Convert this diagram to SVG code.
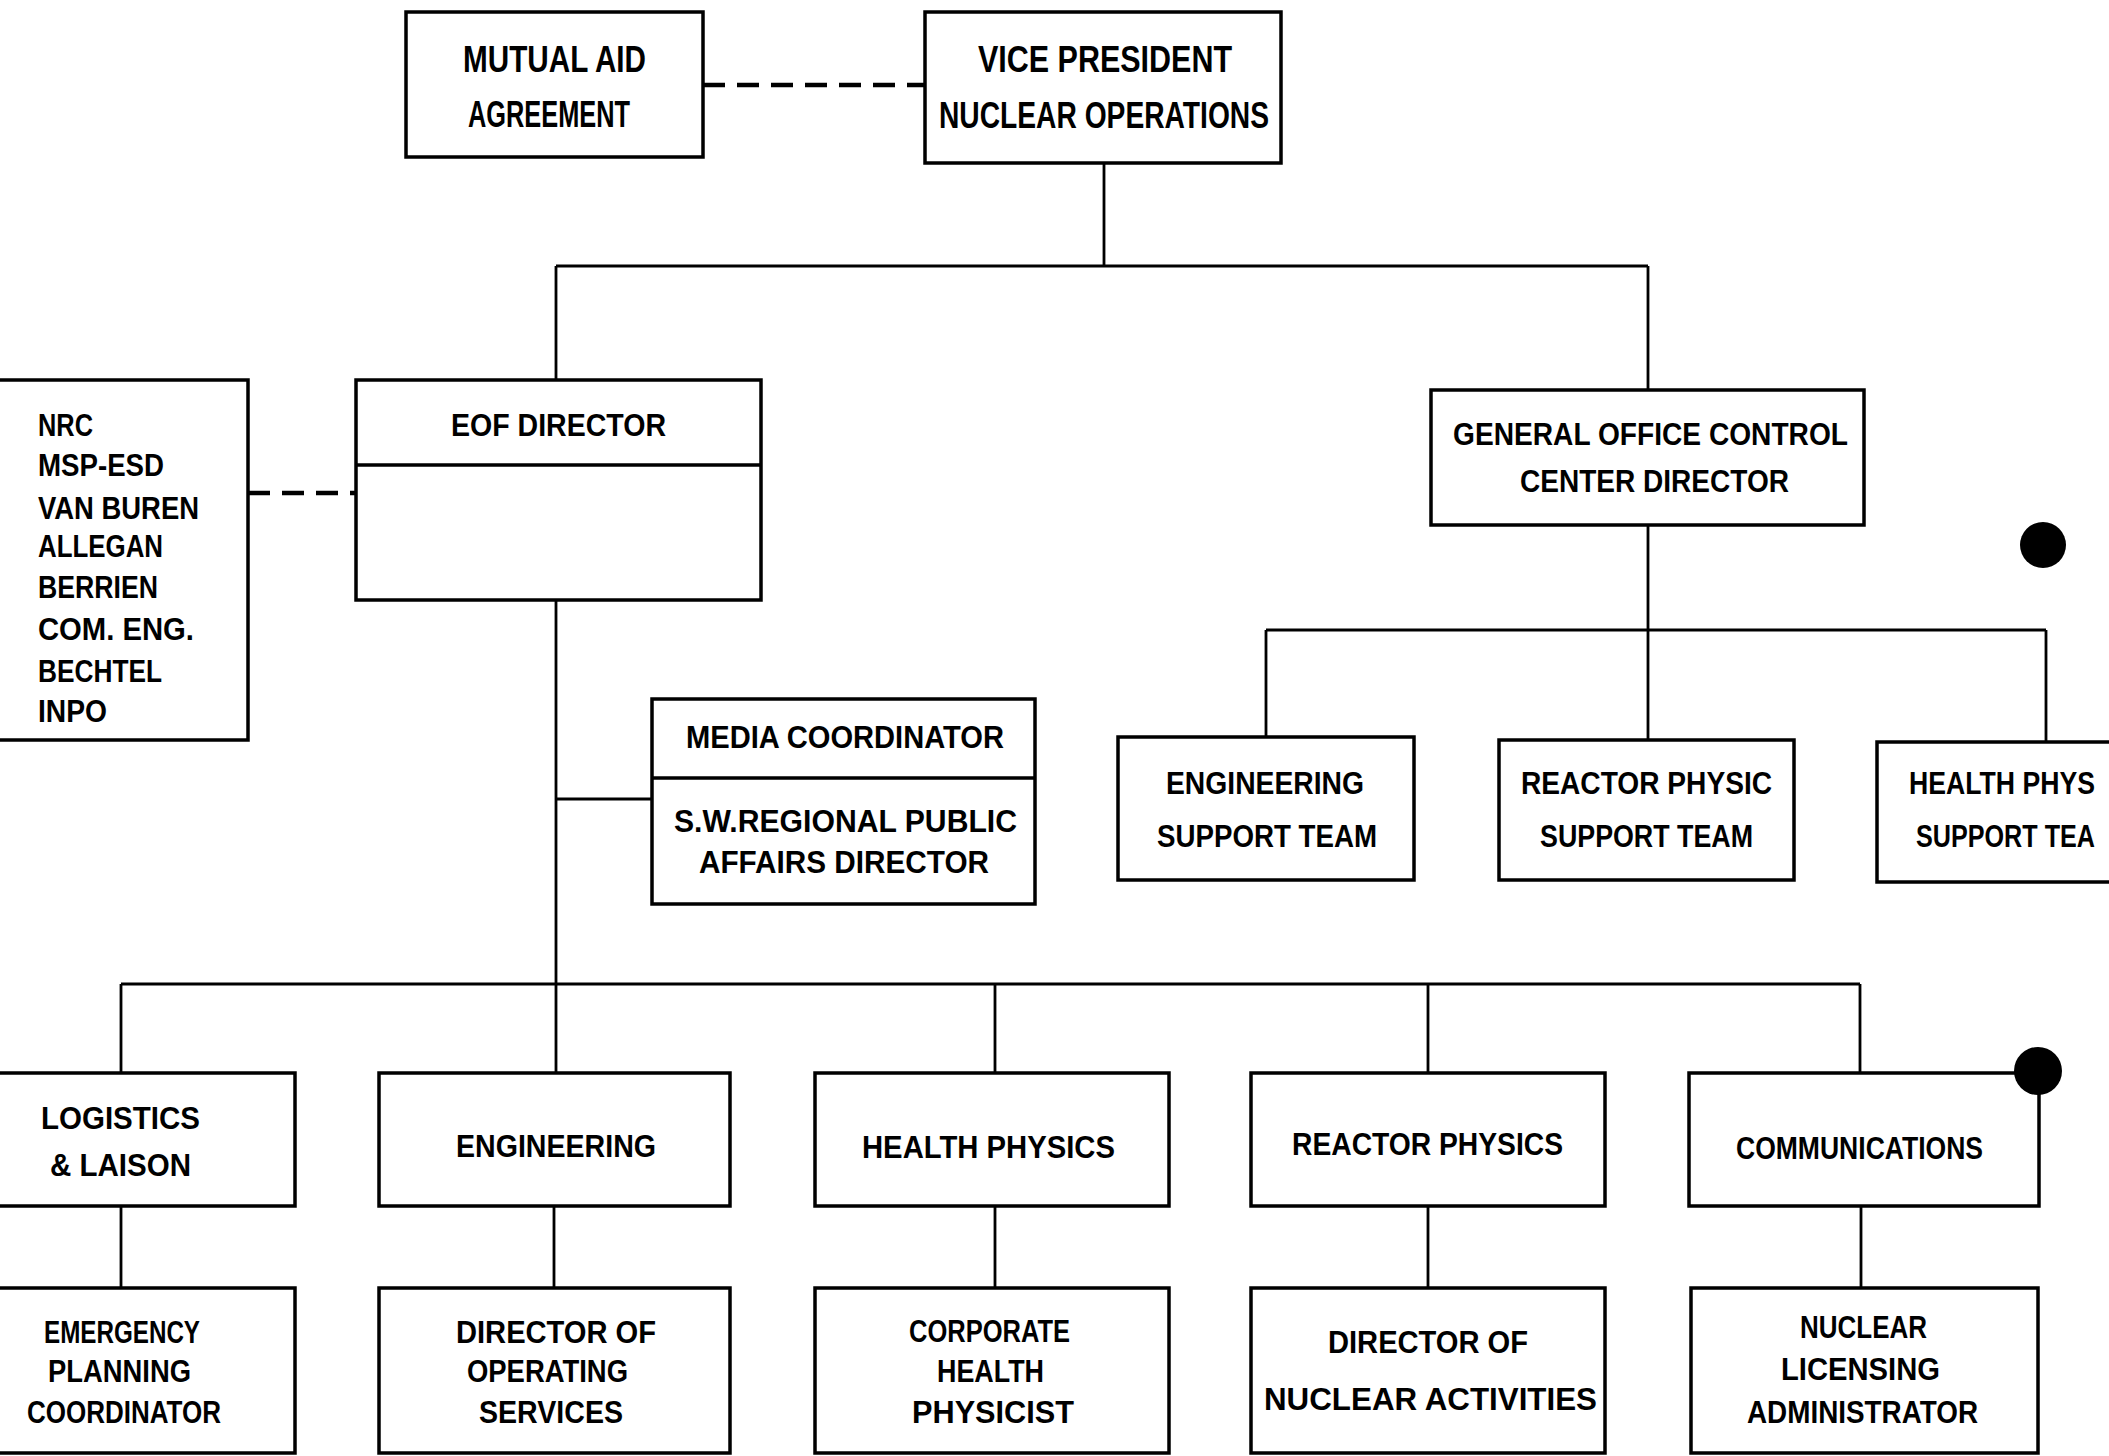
<svg xmlns="http://www.w3.org/2000/svg" width="2109" height="1456" viewBox="0 0 2109 1456">
<style>
.box{fill:none;stroke:#000;stroke-width:3.5}
.ln{fill:none;stroke:#000;stroke-width:2.8}
.dash{fill:none;stroke:#000;stroke-width:4.5;stroke-dasharray:22 12}
text{font-family:"Liberation Sans",Arial,sans-serif;font-weight:bold;font-size:32px;fill:#000}
.big{font-size:36px}
</style>
<rect width="2109" height="1456" fill="#fff"/>
<g id="connectors">
  <path class="dash" d="M703 85 H925"/>
  <path class="dash" d="M248 493 H356"/>
  <path class="ln" d="M1104 163 V266 M556 266 H1648 M556 266 V380 M1648 266 V390"/>
  <path class="ln" d="M556 600 V1073 M556 799 H652"/>
  <path class="ln" d="M121 984 H1860 M121 984 V1073 M995 984 V1073 M1428 984 V1073 M1860 984 V1073"/>
  <path class="ln" d="M121 1206 V1288 M554 1206 V1288 M995 1206 V1288 M1428 1206 V1288 M1861 1206 V1288"/>
  <path class="ln" d="M1648 525 V740 M1266 630 H2046 M1266 630 V737 M2046 630 V742"/>
</g>
<g id="mutual-aid">
  <rect class="box" x="406" y="12" width="297" height="145"/>
  <text class="big" x="463" y="72" textLength="183" lengthAdjust="spacingAndGlyphs">MUTUAL AID</text>
  <text class="big" x="468" y="127" textLength="162" lengthAdjust="spacingAndGlyphs">AGREEMENT</text>
</g>
<g id="vice-president">
  <rect class="box" x="925" y="12" width="356" height="151"/>
  <text class="big" x="978" y="72" textLength="254" lengthAdjust="spacingAndGlyphs">VICE PRESIDENT</text>
  <text class="big" x="939" y="128" textLength="330" lengthAdjust="spacingAndGlyphs">NUCLEAR OPERATIONS</text>
</g>
<g id="external-agencies">
  <rect class="box" x="-2" y="380" width="250" height="360"/>
  <text x="38" y="436" textLength="55" lengthAdjust="spacingAndGlyphs">NRC</text>
  <text x="38" y="476" textLength="126" lengthAdjust="spacingAndGlyphs">MSP-ESD</text>
  <text x="38" y="519" textLength="161" lengthAdjust="spacingAndGlyphs">VAN BUREN</text>
  <text x="38" y="557" textLength="125" lengthAdjust="spacingAndGlyphs">ALLEGAN</text>
  <text x="38" y="598" textLength="120" lengthAdjust="spacingAndGlyphs">BERRIEN</text>
  <text x="38" y="640" textLength="156" lengthAdjust="spacingAndGlyphs">COM. ENG.</text>
  <text x="38" y="682" textLength="124" lengthAdjust="spacingAndGlyphs">BECHTEL</text>
  <text x="38" y="722" textLength="69" lengthAdjust="spacingAndGlyphs">INPO</text>
</g>
<g id="eof-director">
  <rect class="box" x="356" y="380" width="405" height="220"/>
  <path class="box" d="M356 465 H761"/>
  <text x="451" y="436" textLength="215" lengthAdjust="spacingAndGlyphs">EOF DIRECTOR</text>
</g>
<g id="media-coordinator">
  <rect class="box" x="652" y="699" width="383" height="205"/>
  <path class="box" d="M652 778 H1035"/>
  <text x="686" y="748" textLength="318" lengthAdjust="spacingAndGlyphs">MEDIA COORDINATOR</text>
  <text x="674" y="832" textLength="343" lengthAdjust="spacingAndGlyphs">S.W.REGIONAL PUBLIC</text>
  <text x="699" y="873" textLength="290" lengthAdjust="spacingAndGlyphs">AFFAIRS DIRECTOR</text>
</g>
<g id="gocc-director">
  <rect class="box" x="1431" y="390" width="433" height="135"/>
  <text x="1453" y="445" textLength="395" lengthAdjust="spacingAndGlyphs">GENERAL OFFICE CONTROL</text>
  <text x="1520" y="492" textLength="269" lengthAdjust="spacingAndGlyphs">CENTER DIRECTOR</text>
</g>
<g id="eng-support">
  <rect class="box" x="1118" y="737" width="296" height="143"/>
  <text x="1166" y="794" textLength="198" lengthAdjust="spacingAndGlyphs">ENGINEERING</text>
  <text x="1157" y="847" textLength="220" lengthAdjust="spacingAndGlyphs">SUPPORT TEAM</text>
</g>
<g id="reactor-support">
  <rect class="box" x="1499" y="740" width="295" height="140"/>
  <text x="1521" y="794" textLength="251" lengthAdjust="spacingAndGlyphs">REACTOR PHYSIC</text>
  <text x="1540" y="847" textLength="213" lengthAdjust="spacingAndGlyphs">SUPPORT TEAM</text>
</g>
<g id="health-support">
  <rect class="box" x="1877" y="742" width="260" height="140"/>
  <text x="1909" y="794" textLength="186" lengthAdjust="spacingAndGlyphs">HEALTH PHYS</text>
  <text x="1916" y="847" textLength="179" lengthAdjust="spacingAndGlyphs">SUPPORT TEA</text>
</g>
<g id="logistics">
  <rect class="box" x="-2" y="1073" width="297" height="133"/>
  <text x="41" y="1129" textLength="159" lengthAdjust="spacingAndGlyphs">LOGISTICS</text>
  <text x="50" y="1176" textLength="141" lengthAdjust="spacingAndGlyphs">&amp; LAISON</text>
</g>
<g id="engineering">
  <rect class="box" x="379" y="1073" width="351" height="133"/>
  <text x="456" y="1157" textLength="200" lengthAdjust="spacingAndGlyphs">ENGINEERING</text>
</g>
<g id="health-physics">
  <rect class="box" x="815" y="1073" width="354" height="133"/>
  <text x="862" y="1158" textLength="253" lengthAdjust="spacingAndGlyphs">HEALTH PHYSICS</text>
</g>
<g id="reactor-physics">
  <rect class="box" x="1251" y="1073" width="354" height="133"/>
  <text x="1292" y="1155" textLength="271" lengthAdjust="spacingAndGlyphs">REACTOR PHYSICS</text>
</g>
<g id="communications">
  <rect class="box" x="1689" y="1073" width="350" height="133"/>
  <text x="1736" y="1159" textLength="247" lengthAdjust="spacingAndGlyphs">COMMUNICATIONS</text>
</g>
<g id="emergency-planning">
  <rect class="box" x="-2" y="1288" width="297" height="165"/>
  <text x="44" y="1343" textLength="156" lengthAdjust="spacingAndGlyphs">EMERGENCY</text>
  <text x="48" y="1382" textLength="143" lengthAdjust="spacingAndGlyphs">PLANNING</text>
  <text x="27" y="1423" textLength="194" lengthAdjust="spacingAndGlyphs">COORDINATOR</text>
</g>
<g id="operating-services">
  <rect class="box" x="379" y="1288" width="351" height="165"/>
  <text x="456" y="1343" textLength="200" lengthAdjust="spacingAndGlyphs">DIRECTOR OF</text>
  <text x="467" y="1382" textLength="161" lengthAdjust="spacingAndGlyphs">OPERATING</text>
  <text x="479" y="1423" textLength="144" lengthAdjust="spacingAndGlyphs">SERVICES</text>
</g>
<g id="corporate-health">
  <rect class="box" x="815" y="1288" width="354" height="165"/>
  <text x="909" y="1342" textLength="161" lengthAdjust="spacingAndGlyphs">CORPORATE</text>
  <text x="937" y="1382" textLength="107" lengthAdjust="spacingAndGlyphs">HEALTH</text>
  <text x="912" y="1423" textLength="162" lengthAdjust="spacingAndGlyphs">PHYSICIST</text>
</g>
<g id="nuclear-activities">
  <rect class="box" x="1251" y="1288" width="354" height="165"/>
  <text x="1328" y="1353" textLength="200" lengthAdjust="spacingAndGlyphs">DIRECTOR OF</text>
  <text x="1264" y="1410" textLength="333" lengthAdjust="spacingAndGlyphs">NUCLEAR ACTIVITIES</text>
</g>
<g id="nuclear-licensing">
  <rect class="box" x="1691" y="1288" width="347" height="165"/>
  <text x="1800" y="1338" textLength="127" lengthAdjust="spacingAndGlyphs">NUCLEAR</text>
  <text x="1781" y="1380" textLength="159" lengthAdjust="spacingAndGlyphs">LICENSING</text>
  <text x="1747" y="1423" textLength="231" lengthAdjust="spacingAndGlyphs">ADMINISTRATOR</text>
</g>
<g id="punch-holes">
  <circle cx="2043" cy="545" r="23" fill="#000"/>
  <circle cx="2038" cy="1071" r="24" fill="#000"/>
</g>
</svg>
